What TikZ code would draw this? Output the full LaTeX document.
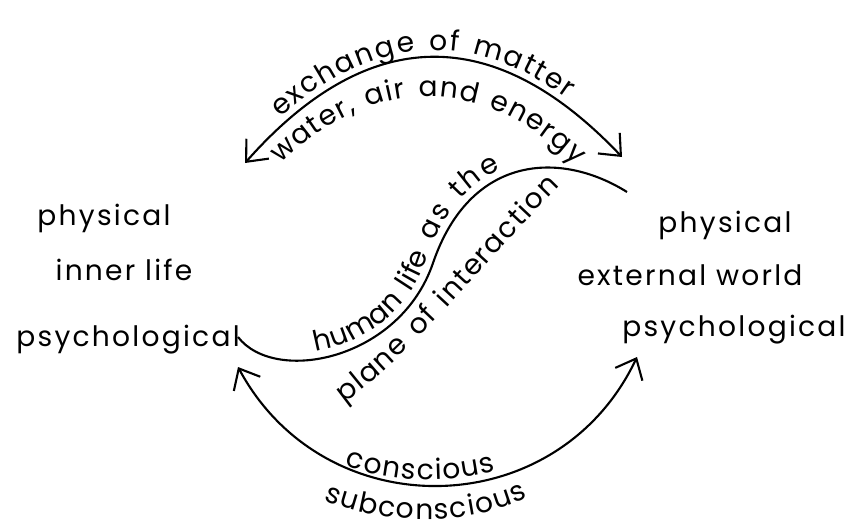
\documentclass[tikz,border=0pt]{standalone}
\usepackage{fontspec}
\setmainfont[LetterSpace=8]{Poppins}
\usetikzlibrary{arrows.meta,decorations.text}

\newcommand{\wordfont}{\fontsize{16}{19}\selectfont}
% letters on the curves are boxed one by one, so space them by hand
\newcommand{\curvefont}{\fontsize{16}{19}\selectfont\kern0.8pt}

\begin{document}
\begin{tikzpicture}[x=0.02cm,y=-0.02cm,
    word/.style={font=\wordfont,inner sep=0pt},
    flow/.style={line width=1.2pt,{Straight Barb[length=3.5mm,width=6mm]}-{Straight Barb[length=3.5mm,width=6mm]}}]
    \useasboundingbox (0,0) rectangle (848,528);

    % inner side
    \node[word] (lphys) at (104,218) {physical};
    \node[word] (linner) at (124,270) {inner life};
    \node[word] (lpsych) at (128,340) {psychological};
    % outer side
    \node[word] (rphys) at (725,225) {physical};
    \node[word] (rworld) at (690,275) {external world};
    \node[word,anchor=east] (rpsych) at (846,330) {psychological};

    % ends of the three curves
    \coordinate (tl) at (245,163);
    \coordinate (tr) at (622,157);
    \coordinate (sl) at (238,337);
    \coordinate (sm) at (433,263);
    \coordinate (sr) at (627,192);
    \coordinate (bl) at (238,367);
    \coordinate (br) at (637,357);

    % upper exchange
    \draw[flow] (tl) .. controls (368,24) and (494,22) .. (tr);
    \path[decorate,decoration={text along path,text align={left indent=1.1cm},raise=0.14cm,
        text={|\curvefont|exchange of matter}}] (tl) .. controls (368,24) and (494,22) .. (tr);
    \path[decorate,decoration={text along path,text align=center,
        text={|\curvefont|water, air and energy}}] (258,188) .. controls (362,66) and (493,66) .. (597,188);

    % plane of interaction
    \draw[line width=1.2pt] (sl) .. controls (275,385) and (400,360) .. (sm)
        .. controls (470,155) and (560,150) .. (sr);
    \path[decorate,decoration={text along path,text align={left indent=1.7cm},raise=0.15cm,
        text={|\curvefont|human life as the}}] (sl) .. controls (275,385) and (400,360) .. (sm)
        .. controls (470,155) and (560,150) .. (sr);
    \path[decorate,decoration={text along path,text align=center,
        text={|\curvefont|plane of interaction}}] (343,404) .. controls (416,352) and (482,264) .. (560,186);

    % lower exchange
    \draw[flow] (bl) .. controls (325,529) and (558,524) .. (br);
    \path[decorate,decoration={text along path,text align=center,
        text={|\curvefont|conscious}}] (320,455) .. controls (380,485) and (460,488) .. (520,462);
    \path[decorate,decoration={text along path,text align=center,
        text={|\curvefont|subconscious}}] (310,493) .. controls (370,527) and (480,530) .. (540,490);
\end{tikzpicture}
\end{document}
